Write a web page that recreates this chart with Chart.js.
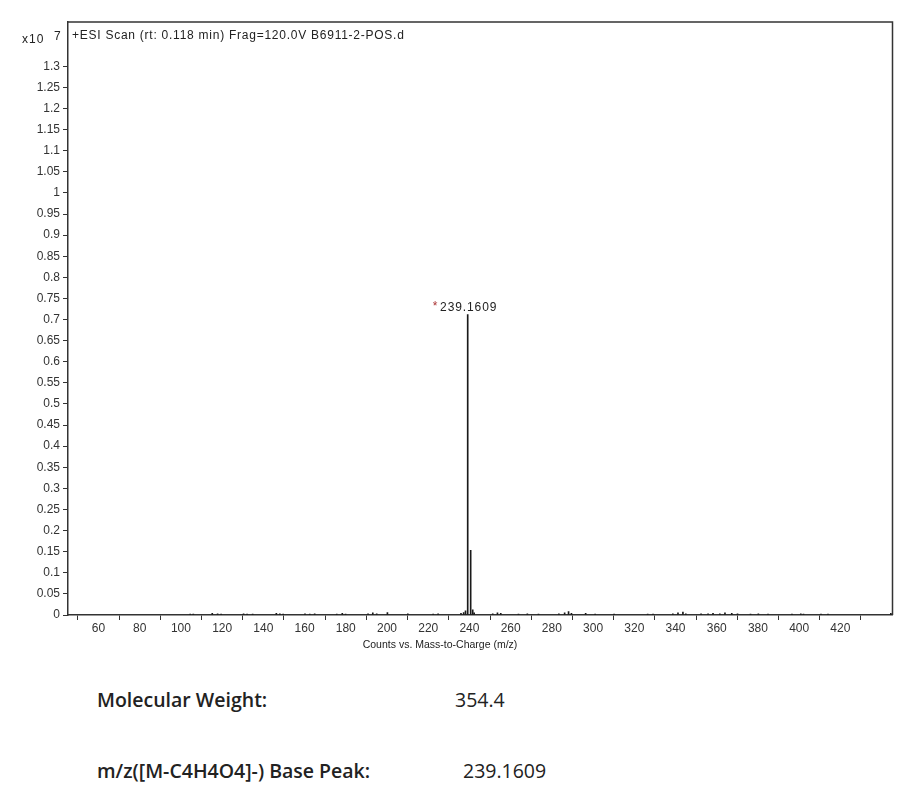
<!DOCTYPE html>
<html>
<head>
<meta charset="utf-8">
<script src="https://cdn.jsdelivr.net/npm/chart.js@4.4.0/dist/chart.umd.min.js"></script>
<style>
    body { margin: 0; background: #fff; width: 917px; height: 798px; position: relative; overflow: hidden; }
    #wrap { position: absolute; left: 0; top: 0; width: 917px; height: 660px; }
    .info { position: absolute; font-family: "Open Sans", sans-serif; font-size: 19.5px; color: #222; white-space: nowrap; line-height: 24px; }
    .info b { font-weight: 600; }
</style>
</head>
<body>
<div id="wrap"><canvas id="espectro" width="917" height="660"></canvas></div>
<div class="info" style="left:97px; top:688px;"><b>Molecular Weight:</b></div>
<div class="info" style="left:455px; top:688px;">354.4</div>
<div class="info" style="left:97px; top:759px;"><b>m/z([M-C4H4O4]-) Base Peak:</b></div>
<div class="info" style="left:463px; top:759px;">239.1609</div>

<script>
// ── Datos del espectro (intensidades en x10^7 cuentas) ───────────────────────
const mzValores = [
    104.5, 106.0, 115.2, 117.8, 119.5, 130.4, 132.1, 134.8, 146.3, 148.0, 149.6,
    160.2, 162.5, 164.9, 175.6, 178.3, 179.9, 190.8, 193.1, 195.0, 200.2, 210.1,
    222.4, 224.8, 235.9, 237.2, 238.1, 239.1609, 240.6, 241.6, 242.3,
    251.3, 253.6, 255.2, 263.8, 268.1, 273.5, 283.4, 286.2, 288.1, 289.5,
    296.4, 301.0, 310.2, 326.5, 329.1, 338.7, 341.2, 343.6, 345.0,
    352.4, 355.8, 358.2, 361.5, 364.0, 367.3, 370.1, 376.4, 380.2, 384.9,
    396.5, 400.8, 402.1, 410.6, 414.0, 444.5
];
const intensidades = [
    0.002, 0.002, 0.004, 0.003, 0.002, 0.003, 0.002, 0.002, 0.004, 0.003, 0.002,
    0.003, 0.002, 0.003, 0.002, 0.004, 0.002, 0.003, 0.005, 0.003, 0.006, 0.003,
    0.002, 0.003, 0.004, 0.006, 0.010, 0.712, 0.153, 0.012, 0.005,
    0.003, 0.005, 0.004, 0.002, 0.003, 0.002, 0.003, 0.005, 0.008, 0.004,
    0.004, 0.002, 0.002, 0.002, 0.002, 0.003, 0.005, 0.007, 0.003,
    0.003, 0.003, 0.004, 0.003, 0.005, 0.004, 0.003, 0.002, 0.003, 0.002,
    0.002, 0.003, 0.002, 0.002, 0.002, 0.004
];
const xTicks = [60, 80, 100, 120, 140, 160, 180, 200, 220, 240, 260, 280, 300, 320, 340, 360, 380, 400, 420, 440];
const yTicks = [0, 0.05, 0.1, 0.15, 0.2, 0.25, 0.3, 0.35, 0.4, 0.45, 0.5, 0.55, 0.6, 0.65, 0.7,
                0.75, 0.8, 0.85, 0.9, 0.95, 1, 1.05, 1.1, 1.15, 1.2, 1.25, 1.3];
const picoBase = 239.1609;
const tituloScan = '+ESI Scan (rt: 0.118 min) Frag=120.0V B6911-2-POS.d';
const tituloEjeX = 'Counts vs. Mass-to-Charge (m/z)';

const FUENTE = '"Liberation Sans", Arial, sans-serif';
const GRIS = '#333';

// ── Anotaciones: marco, textos y etiqueta del pico ──────────────────────────
const anotaciones = {
    id: 'anotaciones',
    afterDraw(chart) {
        const { ctx, chartArea: a, scales } = chart;
        ctx.save();
        ctx.strokeStyle = GRIS;
        ctx.lineWidth = 1.5;
        ctx.beginPath();
        ctx.moveTo(a.left, a.top);
        ctx.lineTo(a.right, a.top);
        ctx.lineTo(a.right, a.bottom);
        ctx.stroke();

        ctx.fillStyle = '#222';
        ctx.textBaseline = 'middle';
        ctx.textAlign = 'left';
        ctx.font = `12px ${FUENTE}`;
        ctx.letterSpacing = '0.75px';
        ctx.fillText(tituloScan, a.left + 4, a.top + 14);

        ctx.font = `12px ${FUENTE}`;
        ctx.letterSpacing = '1px';
        ctx.fillText('x10', 22, 40);
        ctx.fillText('7', 54, 37);

        // etiqueta del pico base
        const px = scales.x.getPixelForValue(picoBase);
        const py = scales.y.getPixelForValue(intensidades[mzValores.indexOf(picoBase)]);
        ctx.textAlign = 'center';
        ctx.font = `12px ${FUENTE}`;
        ctx.letterSpacing = '0.9px';
        ctx.fillText(picoBase.toFixed(4), px + 1, py - 7);
        const w = ctx.measureText(picoBase.toFixed(4)).width;
        ctx.fillStyle = '#a33';
        ctx.letterSpacing = '0px';
        ctx.fillText('*', px - w / 2 - 4, py - 8);

        ctx.fillStyle = '#222';
        ctx.font = `10.5px ${FUENTE}`;
        ctx.fillText(tituloEjeX, 440, 645);
        ctx.restore();
    }
};

new Chart(document.getElementById('espectro'), {
    type: 'bar',
    data: {
        datasets: [{
            data: mzValores.map((m, i) => ({ x: m, y: intensidades[i] })),
            backgroundColor: '#1a1a1a',
            barThickness: 1,
            grouped: false,
        }]
    },
    options: {
        responsive: false,
        animation: false,
        layout: { padding: { top: 22, right: 24.5, left: 0, bottom: 0 } },
        plugins: { legend: { display: false }, tooltip: { enabled: false } },
        scales: {
            x: {
                type: 'linear',
                min: 45.2,
                max: 445.3,
                offset: false,
                afterBuildTicks: s => { s.ticks = xTicks.map(v => ({ value: v })); },
                afterFit: s => { s.height = 45; },
                grid: { drawOnChartArea: false, tickLength: 5, color: GRIS, lineWidth: 1 },
                border: { color: GRIS, width: 1.5 },
                ticks: {
                    autoSkip: false,
                    maxRotation: 0,
                    padding: 1,
                    color: GRIS,
                    font: { family: FUENTE, size: 12 },
                    callback: v => v === 440 ? '' : v
                }
            },
            y: {
                min: 0,
                max: 1.405,
                afterBuildTicks: s => { s.ticks = yTicks.map(v => ({ value: v })); },
                afterFit: s => { s.width = 68; },
                grid: { drawOnChartArea: false, tickLength: 5, color: GRIS, lineWidth: 1 },
                border: { color: GRIS, width: 1.5 },
                ticks: {
                    padding: 3,
                    color: GRIS,
                    font: { family: FUENTE, size: 12 },
                    callback: v => String(+v.toFixed(2))
                }
            }
        }
    },
    plugins: [anotaciones]
});
</script>
</body>
</html>
